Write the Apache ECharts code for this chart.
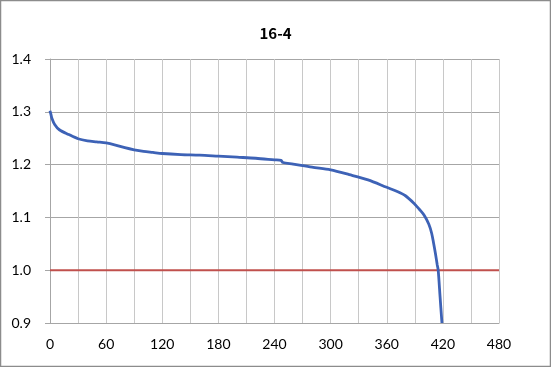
<!DOCTYPE html>
<html><head><meta charset="utf-8">
<script src="https://cdn.jsdelivr.net/npm/echarts@6/dist/echarts.min.js"></script>
<style>html,body{margin:0;padding:0;background:#fff}#c{width:551px;height:367px}</style>
</head><body><div id="c"></div>
<script>
const titleText = '16-4';
const timeMin = [0,1,2,5,10,20,30,40,50,60,70,80,90,100,110,120,140,160,180,200,220,240,247,249,260,280,300,320,340,360,370,380,390,395,400,405,408,410,412,414,415,417,419];
const voltage = [1.302,1.295,1.288,1.276,1.266,1.257,1.249,1.245,1.243,1.241,1.237,1.232,1.228,1.225,1.223,1.221,1.219,1.218,1.216,1.214,1.212,1.209,1.208,1.204,1.201,1.195,1.19,1.181,1.171,1.157,1.150,1.141,1.125,1.115,1.104,1.087,1.07,1.052,1.032,1.01,1.0,0.95,0.9];
const cutoffX = [0,480];
const cutoffY = [1.0,1.0];
const xTicks = [0,60,120,180,240,300,360,420,480];
const yTicks = [0.9,1.0,1.1,1.2,1.3,1.4];

const chart = echarts.init(document.getElementById('c'), null, {renderer:'canvas'});
const labelFont = {color:'#000', fontSize:14, fontFamily:'Lato, "Liberation Sans", sans-serif'};
chart.setOption({
  animation:false,
  backgroundColor:'#fff',
  title:{text:titleText, left:'center', top:21, textStyle:{fontFamily:'"Noto Sans CJK JP", sans-serif', fontWeight:'bold', fontSize:15, color:'#000'}},
  graphic:[{type:'rect', shape:{x:0.5,y:0.5,width:550,height:366}, style:{fill:'none', stroke:'#8c8c8c', lineWidth:1.5}, silent:true}],
  grid:{left:50, right:52, top:59, bottom:44, containLabel:false},
  xAxis:{type:'value', min:0, max:480, interval:30,
    axisLine:{show:true, lineStyle:{color:'#a6a6a6', width:1}},
    axisTick:{show:false},
    splitLine:{show:true, lineStyle:{color:'#c8c8c8', width:1}},
    axisLabel:Object.assign({margin:14, formatter:v=> xTicks.includes(v) ? String(v) : ''}, labelFont)
  },
  yAxis:{type:'value', min:0.9, max:1.4, interval:0.1,
    axisLine:{show:true, lineStyle:{color:'#a6a6a6', width:1}},
    axisTick:{show:true, length:5, lineStyle:{color:'#a6a6a6'}},
    splitLine:{show:true, lineStyle:{color:'#a6a6a6', width:1}},
    axisLabel:Object.assign({margin:19, formatter:v=>{const t=yTicks.find(k=>Math.abs(k-v)<1e-6);return t!==undefined?t.toFixed(1):'';}}, labelFont)
  },
  series:[
    {type:'line', data:cutoffX.map((x,i)=>[x,cutoffY[i]]), symbol:'none', lineStyle:{color:'#c0504d', width:2}, z:2},
    {type:'line', data:timeMin.map((x,i)=>[x,voltage[i]]), symbol:'none', smooth:0.3, lineStyle:{color:'#3d62b6', width:2.8}, z:3, clip:true}
  ]
});
</script></body></html>
